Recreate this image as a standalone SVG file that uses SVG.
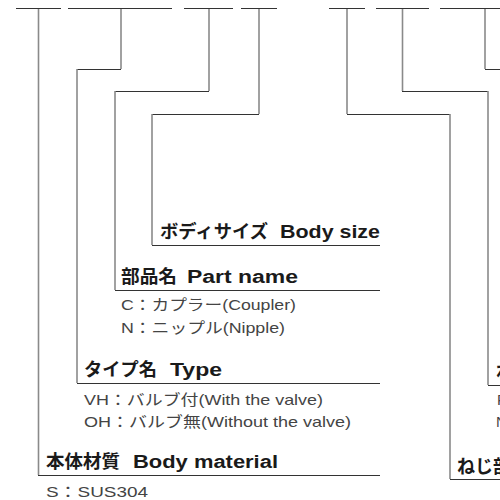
<svg xmlns="http://www.w3.org/2000/svg" width="500" height="500" viewBox="0 0 500 500">
<style>
.bar{stroke:#333;stroke-width:1;fill:none}
.h{stroke:#333;stroke-width:1;fill:none}
.v{stroke:#8a8a8a;stroke-width:1.6;fill:none}
.lbl{font-family:"Liberation Sans","Noto Sans CJK JP",sans-serif;font-weight:700;font-size:18px;fill:#1a1a1a}
.txt{font-family:"Liberation Sans","Noto Sans CJK JP",sans-serif;font-size:15px;fill:#444}
</style>
<rect width="500" height="500" fill="#fff"/>
<g id="connectors">
<g id="bars">
<line class="bar" x1="16" y1="8.5" x2="61" y2="8.5"/>
<line class="bar" x1="68" y1="8.5" x2="172" y2="8.5"/>
<line class="bar" x1="184" y1="8.5" x2="233" y2="8.5"/>
<line class="bar" x1="241" y1="8.5" x2="277" y2="8.5"/>
<line class="bar" x1="329" y1="8.5" x2="365" y2="8.5"/>
<line class="bar" x1="376" y1="8.5" x2="429" y2="8.5"/>
<line class="bar" x1="440" y1="8.5" x2="500" y2="8.5"/>
</g>
<line class="v" x1="38.5" y1="9" x2="38.5" y2="475"/>
<line class="h" x1="38" y1="475.5" x2="380" y2="475.5"/>
<line class="v" x1="121" y1="9" x2="121" y2="69"/>
<line class="h" x1="77" y1="69.5" x2="121" y2="69.5"/>
<line class="v" x1="77" y1="69" x2="77" y2="383"/>
<line class="h" x1="77" y1="383.5" x2="380" y2="383.5"/>
<line class="v" x1="209" y1="9" x2="209" y2="91"/>
<line class="h" x1="115" y1="91.5" x2="209" y2="91.5"/>
<line class="v" x1="115" y1="91" x2="115" y2="290"/>
<line class="h" x1="115" y1="290.5" x2="380" y2="290.5"/>
<line class="v" x1="259" y1="9" x2="259" y2="114"/>
<line class="h" x1="152" y1="114.5" x2="259" y2="114.5"/>
<line class="v" x1="152" y1="114" x2="152" y2="245"/>
<line class="h" x1="152" y1="245.5" x2="380" y2="245.5"/>
<line class="v" x1="347" y1="9" x2="347" y2="114"/>
<line class="h" x1="347" y1="114.5" x2="450" y2="114.5"/>
<line class="v" x1="450" y1="114" x2="450" y2="479"/>
<line class="h" x1="450" y1="479.5" x2="500" y2="479.5"/>
<line class="v" x1="402.5" y1="9" x2="402.5" y2="91"/>
<line class="h" x1="402" y1="91.5" x2="488" y2="91.5"/>
<line class="v" x1="488" y1="91" x2="488" y2="385"/>
<line class="h" x1="488" y1="385.5" x2="500" y2="385.5"/>
<line class="v" x1="485" y1="9" x2="485" y2="69"/>
<line class="h" x1="485" y1="69.5" x2="500" y2="69.5"/>
</g>
<g id="node-body-size">
<text class="lbl" x="160" y="238"><tspan textLength="108" lengthAdjust="spacingAndGlyphs">ボディサイズ</tspan><tspan x="280" textLength="100" lengthAdjust="spacingAndGlyphs">Body size</tspan></text>
</g>
<g id="node-part-name">
<text class="lbl" x="121" y="283"><tspan textLength="56" lengthAdjust="spacingAndGlyphs">部品名</tspan><tspan x="187" textLength="111" lengthAdjust="spacingAndGlyphs">Part name</tspan></text>
<text class="txt" x="121" y="310" textLength="175" lengthAdjust="spacingAndGlyphs">C：カプラー(Coupler)</text>
<text class="txt" x="121" y="333" textLength="164" lengthAdjust="spacingAndGlyphs">N：ニップル(Nipple)</text>
</g>
<g id="node-type">
<text class="lbl" x="84" y="376"><tspan textLength="73" lengthAdjust="spacingAndGlyphs">タイプ名</tspan><tspan x="170" textLength="52" lengthAdjust="spacingAndGlyphs">Type</tspan></text>
<text class="txt" x="84" y="405" textLength="239" lengthAdjust="spacingAndGlyphs">VH：バルブ付(With the valve)</text>
<text class="txt" x="84" y="427" textLength="267" lengthAdjust="spacingAndGlyphs">OH：バルブ無(Without the valve)</text>
</g>
<g id="node-body-material">
<text class="lbl" x="46" y="468"><tspan textLength="74" lengthAdjust="spacingAndGlyphs">本体材質</tspan><tspan x="133" textLength="145" lengthAdjust="spacingAndGlyphs">Body material</tspan></text>
<text class="txt" x="46" y="497" textLength="102" lengthAdjust="spacingAndGlyphs">S：SUS304</text>
</g>
<g id="node-thread">
<text class="lbl" x="457" y="473">ねじ部</text>
</g>
<g id="node-thread-size">
<text class="lbl" x="496" y="378">ね</text>
<text class="txt" x="497" y="405">R</text>
<text class="txt" x="496" y="427">N</text>
</g>
</svg>
